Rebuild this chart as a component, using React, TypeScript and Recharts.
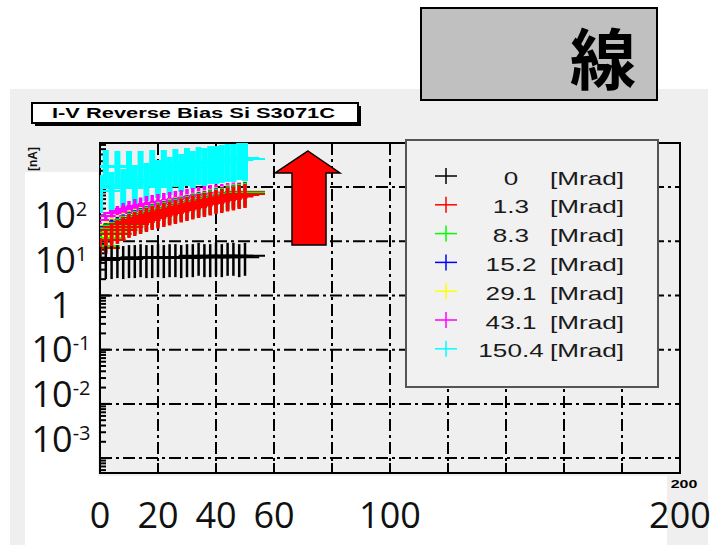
import React from 'react';
import { ScatterChart, Scatter, XAxis, YAxis, CartesianGrid, Legend, ReferenceArea } from 'recharts';

// bias voltage [V]
const voltages = [0, 2, 4, 6, 8, 10, 12, 14, 16, 18, 20, 22, 24, 26, 28, 30, 32, 34, 36, 38, 40, 42, 44, 46, 48, 50];

// leakage current per dose
const current0 = [4.5, 4.7, 4.7, 4.9, 4.7, 4.9, 4.9, 5.1, 4.9, 4.9, 5.1, 4.9, 5.1, 5.1, 4.9, 5.1, 5.1, 5.4, 5.1, 5.1, 5.4, 5.1, 5.4, 5.4, 5.1, 5.4];
const current1p3 = [7.5, 10.6, 13.6, 16.2, 18.4, 20.9, 22.7, 24.7, 26.9, 29.3, 31.2, 33.3, 35.5, 37.8, 40.3, 42.9, 45.8, 48.8, 50.9, 54.2, 57.8, 60.3, 64.3, 67.1, 71.5, 74.6];
const current8p3 = [8.2, 11.5, 14.5, 17.2, 19.5, 22.0, 24.0, 26.0, 28.3, 30.8, 32.8, 35.0, 37.3, 39.7, 42.3, 45.0, 48.0, 51.2, 53.5, 57.0, 60.7, 63.3, 67.5, 70.5, 75.0, 78.3];
const current15p2 = [11.5, 14.0, 16.5, 18.5, 20.5, 23.0, 24.8, 26.8, 29.0, 31.6, 33.7, 36.0, 38.3, 40.8, 43.5, 46.3, 49.5, 52.7, 55.0, 58.5, 62.4, 65.1, 69.4, 72.5, 77.2, 80.6];
const current29p1 = [12.5, 15.5, 18.0, 20.0, 22.0, 24.5, 26.0, 28.0, 30.2, 32.8, 35.0, 37.3, 39.8, 42.3, 45.1, 48.0, 51.3, 54.7, 57.0, 60.7, 64.7, 67.5, 72.0, 75.2, 80.1, 83.6];
const current43p1 = [14.8, 20.0, 24.7, 29.3, 33.3, 36.2, 39.4, 42.0, 44.8, 46.8, 48.8, 50.9, 53.1, 55.4, 57.8, 60.3, 62.9, 65.7, 68.5, 71.5, 73.0, 74.6, 77.8, 79.5, 81.2, 82.9];
const current150p4 = [84.7, 245, 96.3, 235, 109, 235, 124, 235, 141, 245, 160, 245, 182, 256, 207, 267, 235, 278, 267, 290, 290, 303, 316, 316, 344, 330];

const doses = ['0', '1.3', '8.3', '15.2', '29.1', '43.1', '150.4'];
const currents = [current0, current1p3, current8p3, current15p2, current29p1, current43p1, current150p4];
const doseColors = ['#000000', '#ff0000', '#00ff00', '#0000ff', '#ffff00', '#ff00ff', '#00ffff'];

// slide labels written over the plot
const xTickLabels = [0, 20, 40, 60, 100, 200];
const yTickLabels = [1e-3, 1e-2, 1e-1, 1, 10, 100];

// ROOT frame grid
const gridX = [20, 40, 60, 80, 100, 120, 140, 160, 180];
const gridY = [1e-3, 1e-2, 1e-1, 1, 10, 100];
const minorX = Array.from({ length: 49 }, (_, k) => (k + 1) * 4);
const minorY = [-4, -3, -2, -1, 0, 1, 2].flatMap((e) => [2, 3, 4, 5, 6, 7, 8, 9].map((m) => m * Math.pow(10, e)));

const rootDomain: [number, number] = [5.31e-4, 651];
const labelDomain: [number, number] = [1.742e-4, 4046];

const markerStyles = [
  { up: 13, down: 20, bar: 2.5 },
  { up: 10, down: 14, bar: 3.5 },
  { up: 10, down: 14, bar: 3.5 },
  { up: 10, down: 14, bar: 3.5 },
  { up: 10, down: 14, bar: 3.5 },
  { up: 10, down: 14, bar: 3.5 },
  { up: 16, down: 22, bar: 6 },
];

const slideFont = "'Open Sans', 'Noto Sans', sans-serif";
const rootFont = "'Liberation Sans', Arial, sans-serif";

function crossShape(color: string, up: number, down: number, bar: number) {
  return (props: any) => {
    const { cx, cy } = props;
    if (cx == null || cy == null) return <g />;
    return (
      <g>
        <line x1={cx - 20} x2={cx + 20} y1={cy} y2={cy} stroke={color} strokeWidth={2} />
        <line x1={cx} x2={cx} y1={cy - up} y2={cy + down} stroke={color} strokeWidth={bar} />
      </g>
    );
  };
}

// ticks with a line but no label
const NoLabel = () => <g />;

const SlideXTick = (props: any) => {
  const { x, y, payload } = props;
  return (
    <text x={x} y={y + 55} textAnchor="middle" fontSize={36} fontFamily={slideFont} fill="#111">
      {payload.value}
    </text>
  );
};

const SlideYTick = (props: any) => {
  const { x, y, payload } = props;
  const exp = Math.round(Math.log10(payload.value));
  const cx = x - 39;
  if (exp === 0) {
    return (
      <text x={cx} y={y + 13} textAnchor="middle" fontSize={36} fontFamily={slideFont} fill="#111">
        1
      </text>
    );
  }
  return (
    <text x={cx} y={y + 13} textAnchor="middle" fontSize={36} fontFamily={slideFont} fill="#111">
      10
      <tspan dy={-12} fontSize={20}>
        {String(exp)}
      </tspan>
    </text>
  );
};

const LegendBox = () => (
  <svg width={254} height={249} style={{ display: 'block' }}>
    <rect x={1} y={1} width={252} height={247} fill="#f1f1f1" stroke="#555" strokeWidth={2} />
    {doses.map((d, k) => {
      const rowY = 39 + k * 28.8;
      return (
        <g key={d}>
          <line x1={30} x2={52} y1={rowY - 2} y2={rowY - 2} stroke={doseColors[k]} strokeWidth={1.5} />
          <line x1={41} x2={41} y1={rowY - 10} y2={rowY + 6} stroke={doseColors[k]} strokeWidth={1.5} />
          <text
            transform={`translate(106 ${rowY + 6.5}) scale(1.45 1)`}
            textAnchor="middle"
            fontSize={18}
            fontFamily={rootFont}
            fill="#1a1a1a"
          >
            {d}
          </text>
          <text
            transform={`translate(145 ${rowY + 6.5}) scale(1.45 1)`}
            fontSize={18}
            fontFamily={rootFont}
            fill="#1a1a1a"
          >
            [Mrad]
          </text>
        </g>
      );
    })}
  </svg>
);

export default function App() {
  const seriesData = currents.map((arr) => voltages.map((v, k) => ({ v, i: arr[k] })));
  // ROOT drew the highest dose first, so the 0 Mrad points end up on top
  const drawOrder = [6, 5, 4, 3, 2, 1, 0];
  const axisLine = { stroke: '#000', strokeWidth: 2 };

  return (
    <div style={{ position: 'absolute', left: 0, top: 0, width: 720, height: 545, overflow: 'hidden', background: '#fff' }}>
      {/* canvas background and slide patches */}
      <svg width={720} height={545} style={{ position: 'absolute', left: 0, top: 0 }}>
        <rect x={10} y={89} width={698} height={387} fill="#efefef" />
        <rect x={10} y={476} width={15} height={69} fill="#efefef" />
        <rect x={667} y={476} width={41} height={69} fill="#efefef" />
        <text
          transform="translate(37 147) rotate(-90)"
          textAnchor="end"
          fontSize={12}
          fontWeight="bold"
          fontFamily={rootFont}
          fill="#111"
        >
          Current [nA]
        </text>
        <rect x={25} y={172} width={73} height={304} fill="#fff" />
      </svg>

      <div style={{ position: 'absolute', left: 0, top: 0 }}>
        <ScatterChart width={720} height={545} margin={{ top: 143, right: 40, bottom: 0, left: 0 }}>
          <CartesianGrid
            xAxisId="root"
            yAxisId="root"
            syncWithTicks
            stroke="#000"
            strokeWidth={2}
            strokeDasharray="12 4 3 4"
          />
          <XAxis
            xAxisId="labels"
            type="number"
            dataKey="v"
            domain={[0, 200]}
            allowDataOverflow
            ticks={xTickLabels}
            interval={0}
            height={72}
            tickSize={0}
            tickMargin={0}
            axisLine={false}
            tickLine={false}
            tick={<SlideXTick />}
          />
          <XAxis
            xAxisId="root"
            type="number"
            dataKey="v"
            domain={[0, 200]}
            allowDataOverflow
            ticks={gridX}
            interval={0}
            mirror
            height={1}
            tickSize={9}
            tick={<NoLabel />}
            axisLine={false}
            tickLine={axisLine}
          />
          <XAxis
            xAxisId="minor"
            type="number"
            domain={[0, 200]}
            allowDataOverflow
            ticks={minorX}
            interval={0}
            mirror
            height={1}
            tickSize={6}
            tick={<NoLabel />}
            axisLine={false}
            tickLine={axisLine}
          />
          <YAxis
            yAxisId="labels"
            type="number"
            scale="log"
            domain={labelDomain}
            allowDataOverflow
            ticks={yTickLabels}
            interval={0}
            width={100}
            tickSize={0}
            tickMargin={0}
            axisLine={false}
            tickLine={false}
            tick={<SlideYTick />}
          />
          <YAxis
            yAxisId="root"
            type="number"
            dataKey="i"
            scale="log"
            domain={rootDomain}
            allowDataOverflow
            ticks={gridY}
            interval={0}
            mirror
            width={1}
            tickSize={9}
            tick={<NoLabel />}
            axisLine={false}
            tickLine={axisLine}
          />
          <YAxis
            yAxisId="minor"
            type="number"
            scale="log"
            domain={rootDomain}
            allowDataOverflow
            ticks={minorY.filter((t) => t > rootDomain[0] && t < rootDomain[1])}
            interval={0}
            mirror
            width={1}
            tickSize={6}
            tick={<NoLabel />}
            axisLine={false}
            tickLine={axisLine}
          />
          <ReferenceArea
            xAxisId="root"
            yAxisId="root"
            x1={0}
            x2={200}
            y1={rootDomain[0]}
            y2={rootDomain[1]}
            fill="none"
            fillOpacity={0}
            stroke="#000"
            strokeWidth={2}
            ifOverflow="visible"
          />
          {drawOrder.map((k) => (
            <Scatter
              key={doses[k]}
              name={`${doses[k]} [Mrad]`}
              data={seriesData[k]}
              xAxisId="root"
              yAxisId="root"
              fill={doseColors[k]}
              shape={crossShape(doseColors[k], markerStyles[k].up, markerStyles[k].down, markerStyles[k].bar)}
              isAnimationActive={false}
            />
          ))}
          <Legend
            layout="horizontal"
            verticalAlign="middle"
            align="center"
            content={<LegendBox />}
            wrapperStyle={{ left: 405, top: 139, width: 254, height: 249 }}
          />
        </ScatterChart>
      </div>

      {/* slide overlays */}
      <svg width={720} height={545} style={{ position: 'absolute', left: 0, top: 0, pointerEvents: 'none' }}>
        <rect x={35} y={106} width={326} height={20} fill="#000" />
        <rect x={32} y={103} width={326} height={20} fill="#fff" stroke="#000" strokeWidth={2} />
        <text
          x={52}
          y={117.5}
          fontSize={14}
          fontWeight="bold"
          fontFamily={rootFont}
          textLength={283}
          lengthAdjust="spacingAndGlyphs"
          fill="#000"
        >
          I-V Reverse Bias Si S3071C
        </text>
        <rect x={421} y={8} width={236} height={92} fill="#c0c0c0" stroke="#000" strokeWidth={2} />
        <text
          x={603}
          y={84}
          textAnchor="middle"
          fontSize={66}
          fontWeight="bold"
          fontFamily="'Noto Sans CJK JP', 'Noto Sans CJK SC', sans-serif"
          fill="#000"
        >
          線
        </text>
        <polygon
          points="308,151 340,173 326,173 326,245 292,245 292,173 275,173"
          fill="#ff0000"
          stroke="#000"
          strokeWidth={1.5}
        />
        <text
          transform="translate(684 488) scale(1.45 1)"
          textAnchor="middle"
          fontSize={11}
          fontWeight="bold"
          fontFamily={rootFont}
          fill="#000"
        >
          200
        </text>
      </svg>
    </div>
  );
}
